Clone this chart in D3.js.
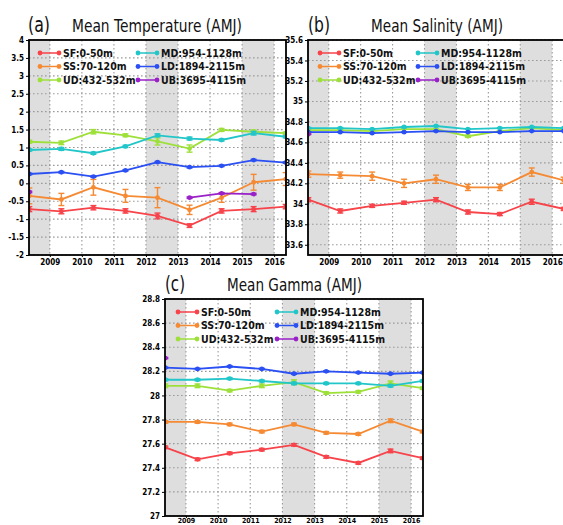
<!DOCTYPE html>
<html><head><meta charset="utf-8">
<script src="https://cdn.jsdelivr.net/npm/d3@7/dist/d3.min.js"></script>
<style>
body{margin:0;background:#fff;}
svg{display:block;}
.tick text{font-family:"Liberation Sans Narrow","DejaVu Sans Condensed",sans-serif;font-weight:bold;}
</style></head>
<body><svg id="c" width="563" height="525"></svg>
<script>
// ---------- DATA ----------
const years = [2008, 2009, 2010, 2011, 2012, 2013, 2014, 2015, 2016];
const yearTicks = [2009, 2010, 2011, 2012, 2013, 2014, 2015, 2016];
const seriesNames = ["SF:0-50m", "SS:70-120m", "UD:432-532m", "MD:954-1128m", "LD:1894-2115m", "UB:3695-4115m"];
const seriesColors = ["#f7434a", "#f58a33", "#9ee03a", "#22c6c9", "#2a4ff2", "#9a20c8"];
const shadedYears = [[2008, 2009], [2012, 2013], [2015, 2016]];

// (a) Mean Temperature
const tempTicks = [-2, -1.5, -1, -0.5, 0, 0.5, 1, 1.5, 2, 2.5, 3, 3.5, 4];
const tempSF = [-0.72, -0.78, -0.68, -0.77, -0.91, -1.18, -0.77, -0.72, -0.65];
const tempSS = [-0.35, -0.45, -0.11, -0.35, -0.40, -0.74, -0.40, 0.03, 0.12];
const tempUD = [1.16, 1.13, 1.44, 1.34, 1.17, 0.97, 1.49, 1.44, 1.40];
const tempMD = [0.93, 0.96, 0.84, 1.03, 1.34, 1.25, 1.21, 1.40, 1.30];
const tempLD = [0.26, 0.31, 0.19, 0.36, 0.59, 0.45, 0.49, 0.65, 0.58];
const tempUB = [-0.24, null, null, null, null, -0.40, -0.28, -0.30, null];
const tempSFerr = [0.07, 0.07, 0.06, 0.06, 0.08, 0.05, 0.06, 0.07, 0.06];
const tempSSerr = [0.22, 0.17, 0.22, 0.18, 0.28, 0.13, 0.13, 0.22, 0.18];
const tempUDerr = [0.04, 0.05, 0.06, 0.04, 0.10, 0.10, 0.04, 0.05, 0.03];
const tempMDerr = [0.03, 0.04, 0.03, 0.03, 0.04, 0.04, 0.03, 0.05, 0.03];
const tempLDerr = [0.02, 0.02, 0.02, 0.02, 0.02, 0.02, 0.02, 0.02, 0.02];
const tempUBerr = [0.02, 0, 0, 0, 0, 0.02, 0.02, 0.02, 0];

// (b) Mean Salinity
const salTicks = [33.6, 33.8, 34, 34.2, 34.4, 34.6, 34.8, 35, 35.2, 35.4, 35.6];
const salSF = [34.04, 33.93, 33.98, 34.01, 34.04, 33.92, 33.90, 34.02, 33.95];
const salSS = [34.29, 34.28, 34.27, 34.20, 34.24, 34.16, 34.16, 34.31, 34.23];
const salUD = [34.72, 34.72, 34.71, 34.73, 34.73, 34.66, 34.71, 34.74, 34.72];
const salMD = [34.74, 34.74, 34.73, 34.75, 34.76, 34.73, 34.74, 34.75, 34.74];
const salLD = [34.70, 34.70, 34.69, 34.70, 34.71, 34.70, 34.70, 34.71, 34.71];
const salUB = [34.68, null, null, null, null, null, null, null, null];
const salSFerr = [0.02, 0.02, 0.015, 0.015, 0.02, 0.02, 0.015, 0.025, 0.015];
const salSSerr = [0.03, 0.03, 0.04, 0.04, 0.04, 0.03, 0.03, 0.04, 0.03];
const salUDerr = [0.005, 0.005, 0.005, 0.005, 0.005, 0.01, 0.005, 0.005, 0.005];
const salMDerr = [0.005, 0.005, 0.005, 0.005, 0.005, 0.005, 0.005, 0.005, 0.005];
const salLDerr = [0.003, 0.003, 0.003, 0.003, 0.003, 0.003, 0.003, 0.003, 0.003];
const salUBerr = [0.003, 0, 0, 0, 0, 0, 0, 0, 0];

// (c) Mean Gamma
const gamTicks = [27, 27.2, 27.4, 27.6, 27.8, 28, 28.2, 28.4, 28.6, 28.8];
const gamSF = [27.57, 27.47, 27.52, 27.55, 27.59, 27.49, 27.44, 27.54, 27.48];
const gamSS = [27.78, 27.78, 27.76, 27.70, 27.76, 27.69, 27.68, 27.79, 27.70];
const gamUD = [28.08, 28.08, 28.04, 28.08, 28.11, 28.02, 28.03, 28.10, 28.06];
const gamMD = [28.13, 28.13, 28.14, 28.12, 28.10, 28.10, 28.10, 28.08, 28.12];
const gamLD = [28.23, 28.22, 28.24, 28.22, 28.18, 28.20, 28.19, 28.18, 28.19];
const gamUB = [28.31, null, null, null, null, null, null, null, null];
const gamSFerr = [0.01, 0.01, 0.01, 0.01, 0.01, 0.01, 0.01, 0.015, 0.01];
const gamSSerr = [0.01, 0.01, 0.01, 0.01, 0.01, 0.01, 0.01, 0.015, 0.01];
const gamUDerr = [0.015, 0.015, 0.01, 0.015, 0.02, 0.01, 0.01, 0.02, 0.01];
const gamMDerr = [0.008, 0.008, 0.008, 0.008, 0.01, 0.008, 0.008, 0.01, 0.008];
const gamLDerr = [0.005, 0.005, 0.005, 0.005, 0.005, 0.005, 0.005, 0.005, 0.005];
const gamUBerr = [0.005, 0, 0, 0, 0, 0, 0, 0, 0];

const panels = [
  {letter: "(a)", title: "Mean Temperature (AMJ)", box: {x: 29, y: 40, w: 257, h: 215},
   domain: [-2, 4], ticks: tempTicks,
   vals: [tempSF, tempSS, tempUD, tempMD, tempLD, tempUB],
   errs: [tempSFerr, tempSSerr, tempUDerr, tempMDerr, tempLDerr, tempUBerr],
   letterPos: [28, 32], letterW: 22, titlePos: [72, 32], titleW: 170, legX: [40, 138]},
  {letter: "(b)", title: "Mean Salinity (AMJ)", box: {x: 308, y: 40, w: 256, h: 215},
   domain: [33.5, 35.6], ticks: salTicks,
   vals: [salSF, salSS, salUD, salMD, salLD, salUB],
   errs: [salSFerr, salSSerr, salUDerr, salMDerr, salLDerr, salUBerr],
   letterPos: [308, 32], letterW: 22, titlePos: [371, 32], titleW: 132, legX: [320, 418]},
  {letter: "(c)", title: "Mean Gamma (AMJ)", box: {x: 165, y: 299, w: 258, h: 217},
   domain: [27, 28.8], ticks: gamTicks,
   vals: [gamSF, gamSS, gamUD, gamMD, gamLD, gamUB],
   errs: [gamSFerr, gamSSerr, gamUDerr, gamMDerr, gamLDerr, gamUBerr],
   letterPos: [165, 291], letterW: 20, titlePos: [227, 291], titleW: 135, legX: [178, 277]}
];

// ---------- DRAW ----------
const svg = d3.select("#c");
const xOffset = 0.36; // AMJ mid-season
const fmt = v => (Math.round(v * 10) / 10).toString();

panels.forEach((p, pi) => {
  const b = p.box;
  const g = svg.append("g");
  const x = d3.scaleLinear().domain([years[0] + xOffset - 0.01, years[years.length - 1] + xOffset + 0.01]).range([b.x, b.x + b.w]);
  const y = d3.scaleLinear().domain(p.domain).range([b.y + b.h, b.y]);
  const clipId = "clip" + pi;
  svg.append("clipPath").attr("id", clipId).append("rect").attr("x", b.x).attr("y", b.y).attr("width", b.w).attr("height", b.h);

  // shading
  g.append("g").attr("clip-path", `url(#${clipId})`).selectAll("rect").data(shadedYears).join("rect")
    .attr("x", d => x(d[0])).attr("width", d => x(d[1]) - x(d[0]))
    .attr("y", b.y).attr("height", b.h).attr("fill", "#dedede");

  // grid
  const grid = g.append("g").attr("stroke", "#9a9a9a").attr("stroke-width", 1.1).attr("stroke-dasharray", "1.6,2.4");
  grid.selectAll("line.h").data(p.ticks).join("line")
    .attr("x1", b.x).attr("x2", b.x + b.w).attr("y1", d => y(d)).attr("y2", d => y(d));
  grid.selectAll("line.v").data(yearTicks).join("line").attr("class", "v")
    .attr("y1", b.y).attr("y2", b.y + b.h).attr("x1", d => x(d)).attr("x2", d => x(d));

  // axes
  const yAxis = d3.axisLeft(y).tickValues(p.ticks).tickFormat(fmt).tickSize(3).tickPadding(2);
  const ya = g.append("g").attr("transform", `translate(${b.x},0)`).call(yAxis);
  ya.select(".domain").remove();
  ya.selectAll("text").attr("font-size", 8).attr("fill", "#000");
  const xAxis = d3.axisBottom(x).tickValues(yearTicks).tickFormat(d3.format("d")).tickSize(2).tickPadding(pi === 2 ? 0.5 : 2);
  const xa = g.append("g").attr("transform", `translate(0,${b.y + b.h})`).call(xAxis);
  xa.select(".domain").remove();
  xa.selectAll("text").attr("font-size", pi === 2 ? 7 : 8).attr("fill", "#000");

  // series
  const dg = g.append("g").attr("clip-path", `url(#${clipId})`);
  p.vals.forEach((vals, si) => {
    const col = seriesColors[si];
    const pts = years.map((yr, i) => ({x: yr + xOffset, v: vals[i], e: p.errs[si][i]})).filter(d => d.v !== null);
    const line = d3.line().defined(d => d.v !== null).x(d => x(d.x)).y(d => y(d.v));
    const full = years.map((yr, i) => ({x: yr + xOffset, v: vals[i]}));
    dg.append("path").datum(full).attr("d", line).attr("fill", "none").attr("stroke", col).attr("stroke-width", 1.8);
    const eb = dg.append("g").attr("stroke", col).attr("stroke-width", 1.4);
    pts.filter(d => d.e > 0).forEach(d => {
      const cx = x(d.x), y1 = y(d.v - d.e), y2 = y(d.v + d.e);
      eb.append("line").attr("x1", cx).attr("x2", cx).attr("y1", y1).attr("y2", y2);
      eb.append("line").attr("x1", cx - 3).attr("x2", cx + 3).attr("y1", y1).attr("y2", y1);
      eb.append("line").attr("x1", cx - 3).attr("x2", cx + 3).attr("y1", y2).attr("y2", y2);
    });
    dg.append("g").selectAll("circle").data(pts).join("circle")
      .attr("cx", d => x(d.x)).attr("cy", d => y(d.v)).attr("r", 2.4).attr("fill", col);
  });

  // legend
  const lg = g.append("g");
  seriesNames.forEach((name, si) => {
    const col = Math.floor(si / 3), row = si % 3;
    const lx = p.legX[col], ly = b.y + 13 + row * 13.5;
    lg.append("line").attr("x1", lx).attr("x2", lx + 19).attr("y1", ly).attr("y2", ly).attr("stroke", seriesColors[si]).attr("stroke-width", 1.5);
    lg.append("circle").attr("cx", lx).attr("cy", ly).attr("r", 2.4).attr("fill", seriesColors[si]);
    lg.append("circle").attr("cx", lx + 19).attr("cy", ly).attr("r", 2.4).attr("fill", seriesColors[si]);
    lg.append("text").attr("x", lx + 23).attr("y", ly + 3.8).text(name)
      .attr("font-family", "'DejaVu Sans Condensed','Liberation Sans Narrow',sans-serif").attr("font-weight", "bold").attr("font-size", 10.5).attr("fill", "#111");
  });

  // frame
  g.append("rect").attr("x", b.x).attr("y", b.y).attr("width", b.w).attr("height", b.h)
    .attr("fill", "none").attr("stroke", "#000").attr("stroke-width", 1.8);

  // titles
  svg.append("text").attr("x", p.letterPos[0]).attr("y", p.letterPos[1]).text(p.letter)
    .attr("font-family", "'DejaVu Sans',sans-serif").attr("font-size", 21).attr("fill", "#111")
    .attr("textLength", p.letterW).attr("lengthAdjust", "spacingAndGlyphs");
  svg.append("text").attr("x", p.titlePos[0]).attr("y", p.titlePos[1]).text(p.title)
    .attr("font-family", "'DejaVu Sans',sans-serif").attr("font-size", 17).attr("fill", "#111")
    .attr("textLength", p.titleW).attr("lengthAdjust", "spacingAndGlyphs");
});
</script></body></html>
